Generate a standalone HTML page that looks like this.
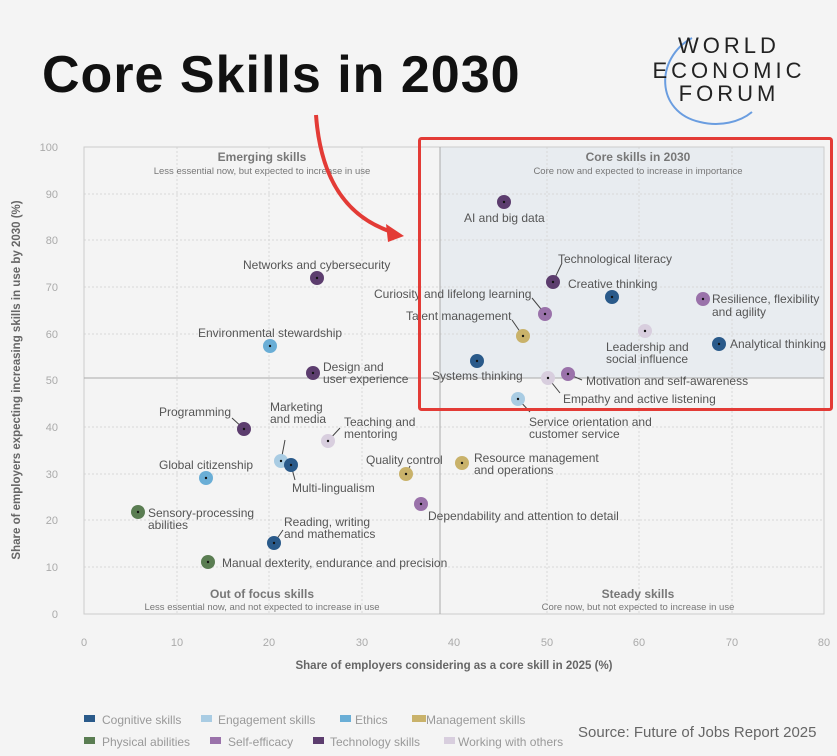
<!DOCTYPE html>
<html><head><meta charset="utf-8"><style>
html,body{margin:0;padding:0;background:#f4f4f4;}
svg{display:block;font-family:"Liberation Sans",sans-serif;}
.l{font-size:12px;fill:#555;}
.t{font-size:11px;fill:#aaa;}
</style></head><body>
<svg width="837" height="756" viewBox="0 0 837 756">
<rect width="837" height="756" fill="#f4f4f4"/>
<text x="42" y="92" font-size="52" font-weight="bold" fill="#111" letter-spacing="1">Core Skills in 2030</text>
<!-- WEF logo -->
<path d="M692 38 C655 58 655 112 700 122 C720 127 740 122 752 112" fill="none" stroke="#6a9de0" stroke-width="2"/>
<text x="729" y="53" text-anchor="middle" font-size="22" fill="#222" letter-spacing="4">WORLD</text>
<text x="729" y="78" text-anchor="middle" font-size="22" fill="#222" letter-spacing="4">ECONOMIC</text>
<text x="729" y="101" text-anchor="middle" font-size="22" fill="#222" letter-spacing="4">FORUM</text>
<!-- plot -->
<rect x="440" y="147" width="384" height="231" fill="#e8ecf0"/>
<g stroke="#d8d8d8" stroke-dasharray="2,2" stroke-width="1">
<line x1="84" y1="194" x2="824" y2="194"/><line x1="84" y1="240" x2="824" y2="240"/>
<line x1="84" y1="287" x2="824" y2="287"/><line x1="84" y1="334" x2="824" y2="334"/>
<line x1="84" y1="427" x2="824" y2="427"/><line x1="84" y1="474" x2="824" y2="474"/>
<line x1="84" y1="520" x2="824" y2="520"/><line x1="84" y1="567" x2="824" y2="567"/>
<line x1="177" y1="147" x2="177" y2="614"/><line x1="269" y1="147" x2="269" y2="614"/>
<line x1="362" y1="147" x2="362" y2="614"/><line x1="547" y1="147" x2="547" y2="614"/>
<line x1="639" y1="147" x2="639" y2="614"/><line x1="732" y1="147" x2="732" y2="614"/>
</g>
<rect x="84" y="147" width="740" height="467" fill="none" stroke="#ccc"/>
<line x1="440" y1="147" x2="440" y2="614" stroke="#aaa"/>
<line x1="84" y1="378" x2="824" y2="378" stroke="#aaa"/>
<g class="t" text-anchor="end">
<text x="58" y="151">100</text><text x="58" y="198">90</text><text x="58" y="244">80</text>
<text x="58" y="291">70</text><text x="58" y="338">60</text><text x="58" y="384">50</text>
<text x="58" y="431">40</text><text x="58" y="478">30</text><text x="58" y="524">20</text>
<text x="58" y="571">10</text><text x="58" y="618">0</text></g>
<g class="t" text-anchor="middle">
<text x="84" y="646">0</text><text x="177" y="646">10</text><text x="269" y="646">20</text>
<text x="362" y="646">30</text><text x="454" y="646">40</text><text x="547" y="646">50</text>
<text x="639" y="646">60</text><text x="732" y="646">70</text><text x="824" y="646">80</text></g>
<text x="454" y="669" text-anchor="middle" font-size="11.5" font-weight="bold" fill="#666">Share of employers considering as a core skill in 2025 (%)</text>
<text transform="translate(20,380) rotate(-90)" text-anchor="middle" font-size="11.5" font-weight="bold" fill="#666">Share of employers expecting increasing skills in use by 2030 (%)</text>
<g text-anchor="middle" fill="#777">
<text x="262" y="161" font-size="12" font-weight="bold">Emerging skills</text>
<text x="262" y="174" font-size="9.5">Less essential now, but expected to increase in use</text>
<text x="638" y="161" font-size="12" font-weight="bold">Core skills in 2030</text>
<text x="638" y="174" font-size="9.5">Core now and expected to increase in importance</text>
<text x="262" y="598" font-size="12" font-weight="bold">Out of focus skills</text>
<text x="262" y="610" font-size="9.5">Less essential now, and not expected to increase in use</text>
<text x="638" y="598" font-size="12" font-weight="bold">Steady skills</text>
<text x="638" y="610" font-size="9.5">Core now, but not expected to increase in use</text>
</g>
<!-- leader lines -->
<g stroke="#444" stroke-width="1">
<line x1="553" y1="282" x2="562" y2="263"/><line x1="545" y1="314" x2="532" y2="298"/>
<line x1="523" y1="336" x2="512" y2="320"/><line x1="568" y1="374" x2="582" y2="380"/>
<line x1="548" y1="378" x2="560" y2="393"/><line x1="518" y1="399" x2="530" y2="412"/>
<line x1="244" y1="429" x2="232" y2="418"/><line x1="281" y1="461" x2="285" y2="440"/>
<line x1="328" y1="441" x2="340" y2="428"/><line x1="291" y1="465" x2="295" y2="480"/>
<line x1="406" y1="474" x2="410" y2="466"/><line x1="274" y1="543" x2="283" y2="530"/>
</g>
<g stroke="none">
<circle cx="504" cy="202" r="7" fill="#5c3d6e"/><circle cx="553" cy="282" r="7" fill="#5c3d6e"/>
<circle cx="612" cy="297" r="7" fill="#2a5a8a"/><circle cx="703" cy="299" r="7" fill="#9a72aa"/>
<circle cx="545" cy="314" r="7" fill="#9a72aa"/><circle cx="523" cy="336" r="7" fill="#c9b26a"/>
<circle cx="645" cy="331" r="7" fill="#d8cede"/><circle cx="719" cy="344" r="7" fill="#2a5a8a"/>
<circle cx="477" cy="361" r="7" fill="#2a5a8a"/><circle cx="568" cy="374" r="7" fill="#9a72aa"/>
<circle cx="548" cy="378" r="7" fill="#d8cede"/><circle cx="518" cy="399" r="7" fill="#a9cce3"/>
<circle cx="317" cy="278" r="7" fill="#5c3d6e"/><circle cx="270" cy="346" r="7" fill="#6aaed6"/>
<circle cx="313" cy="373" r="7" fill="#5c3d6e"/><circle cx="244" cy="429" r="7" fill="#5c3d6e"/>
<circle cx="281" cy="461" r="7" fill="#a9cce3"/><circle cx="328" cy="441" r="7" fill="#d8cede"/>
<circle cx="291" cy="465" r="7" fill="#2a5a8a"/><circle cx="206" cy="478" r="7" fill="#6aaed6"/>
<circle cx="406" cy="474" r="7" fill="#c9b26a"/><circle cx="462" cy="463" r="7" fill="#c9b26a"/>
<circle cx="421" cy="504" r="7" fill="#9a72aa"/><circle cx="138" cy="512" r="7" fill="#5a7d52"/>
<circle cx="274" cy="543" r="7" fill="#2a5a8a"/><circle cx="208" cy="562" r="7" fill="#5a7d52"/>
</g>
<g fill="#111">
<circle cx="504" cy="202" r="1.2"/><circle cx="553" cy="282" r="1.2"/><circle cx="612" cy="297" r="1.2"/><circle cx="703" cy="299" r="1.2"/><circle cx="545" cy="314" r="1.2"/><circle cx="523" cy="336" r="1.2"/><circle cx="645" cy="331" r="1.2"/><circle cx="719" cy="344" r="1.2"/><circle cx="477" cy="361" r="1.2"/><circle cx="568" cy="374" r="1.2"/><circle cx="548" cy="378" r="1.2"/><circle cx="518" cy="399" r="1.2"/><circle cx="317" cy="278" r="1.2"/><circle cx="270" cy="346" r="1.2"/><circle cx="313" cy="373" r="1.2"/><circle cx="244" cy="429" r="1.2"/><circle cx="281" cy="461" r="1.2"/><circle cx="328" cy="441" r="1.2"/><circle cx="291" cy="465" r="1.2"/><circle cx="206" cy="478" r="1.2"/><circle cx="406" cy="474" r="1.2"/><circle cx="462" cy="463" r="1.2"/><circle cx="421" cy="504" r="1.2"/><circle cx="138" cy="512" r="1.2"/><circle cx="274" cy="543" r="1.2"/><circle cx="208" cy="562" r="1.2"/>
</g>
<g class="l">
<text x="464" y="222">AI and big data</text>
<text x="558" y="263">Technological literacy</text>
<text x="568" y="288">Creative thinking</text>
<text x="712" y="303">Resilience, flexibility</text><text x="712" y="316">and agility</text>
<text x="374" y="298">Curiosity and lifelong learning</text>
<text x="406" y="320">Talent management</text>
<text x="606" y="351">Leadership and</text><text x="606" y="363">social influence</text>
<text x="730" y="348">Analytical thinking</text>
<text x="432" y="380">Systems thinking</text>
<text x="586" y="385">Motivation and self-awareness</text>
<text x="563" y="403">Empathy and active listening</text>
<text x="529" y="426">Service orientation and</text><text x="529" y="438">customer service</text>
<text x="243" y="269">Networks and cybersecurity</text>
<text x="198" y="337">Environmental stewardship</text>
<text x="323" y="371">Design and</text><text x="323" y="383">user experience</text>
<text x="159" y="416">Programming</text>
<text x="270" y="411">Marketing</text><text x="270" y="423">and media</text>
<text x="344" y="426">Teaching and</text><text x="344" y="438">mentoring</text>
<text x="292" y="492">Multi-lingualism</text>
<text x="159" y="469">Global citizenship</text>
<text x="366" y="464">Quality control</text>
<text x="474" y="462">Resource management</text><text x="474" y="474">and operations</text>
<text x="428" y="520">Dependability and attention to detail</text>
<text x="148" y="517">Sensory-processing</text><text x="148" y="529">abilities</text>
<text x="284" y="526">Reading, writing</text><text x="284" y="538">and mathematics</text>
<text x="222" y="567">Manual dexterity, endurance and precision</text>
</g>
<rect x="419.5" y="138.5" width="412" height="271" fill="none" stroke="#e33b36" stroke-width="3" rx="2"/>
<path d="M316 115 C320 170 340 215 392 232" fill="none" stroke="#e33b36" stroke-width="4"/>
<polygon points="404,236 386,224 388,242" fill="#e33b36"/>
<!-- legend -->
<g font-size="12" fill="#999">
<rect x="84" y="715" width="11" height="7" fill="#2a5a8a"/><text x="102" y="724">Cognitive skills</text>
<rect x="201" y="715" width="11" height="7" fill="#a9cce3"/><text x="218" y="724">Engagement skills</text>
<rect x="340" y="715" width="11" height="7" fill="#6aaed6"/><text x="355" y="724">Ethics</text>
<rect x="412" y="715" width="14" height="7" fill="#c9b26a"/><text x="426" y="724">Management skills</text>
<rect x="84" y="737" width="11" height="7" fill="#5a7d52"/><text x="102" y="746">Physical abilities</text>
<rect x="210" y="737" width="11" height="7" fill="#9a72aa"/><text x="228" y="746">Self-efficacy</text>
<rect x="313" y="737" width="11" height="7" fill="#5c3d6e"/><text x="330" y="746">Technology skills</text>
<rect x="444" y="737" width="11" height="7" fill="#d8cede"/><text x="458" y="746">Working with others</text>
</g>
<text x="578" y="737" font-size="15" fill="#666">Source: Future of Jobs Report 2025</text>
</svg>
</body></html>
